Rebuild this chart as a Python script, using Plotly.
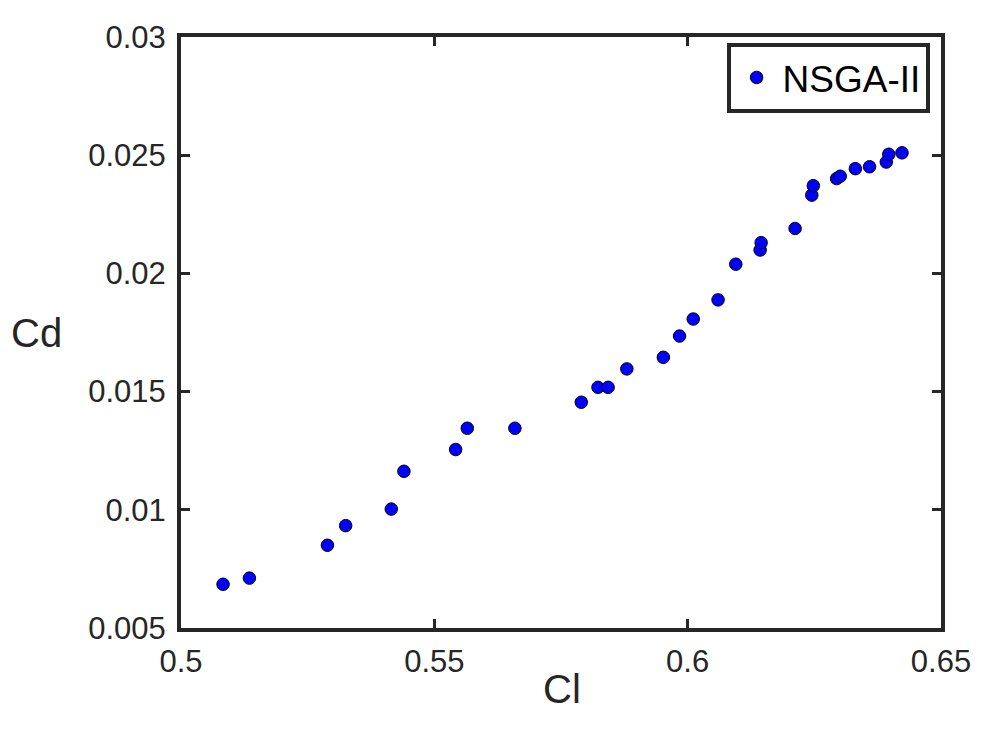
import plotly.graph_objects as go

cl = [0.5083, 0.5135, 0.5289, 0.5325, 0.5415, 0.5440, 0.5542, 0.5565, 0.5659,
      0.5790, 0.5823, 0.5843, 0.5880, 0.5952, 0.5984, 0.6011, 0.6060, 0.6095,
      0.6143, 0.6145, 0.6212, 0.6245, 0.6248, 0.6294, 0.6301, 0.6331, 0.6359,
      0.6392, 0.6397, 0.6423]
cd = [0.00685, 0.00711, 0.0085, 0.00933, 0.01003, 0.01163, 0.01255, 0.01345, 0.01345,
      0.01455, 0.01518, 0.01518, 0.01596, 0.01645, 0.01735, 0.01807, 0.01888, 0.02039,
      0.02099, 0.0213, 0.0219, 0.02331, 0.02371, 0.02401, 0.02411, 0.02443, 0.02451,
      0.02471, 0.02504, 0.0251]

x_ticks = [0.5, 0.55, 0.6, 0.65]
x_tick_labels = ["0.5", "0.55", "0.6", "0.65"]
y_ticks = [0.005, 0.01, 0.015, 0.02, 0.025, 0.03]
y_tick_labels = ["0.005", "0.01", "0.015", "0.02", "0.025", "0.03"]

axis_color = "#262626"
font_family = "Liberation Sans, Arial, sans-serif"

fig = go.Figure()
fig.add_trace(go.Scatter(
    x=cl, y=cd, mode="markers", name="NSGA-II",
    marker=dict(color="#0000ff", size=12.5, line=dict(color="#000000", width=1)),
))

axis_common = dict(
    showline=True, linewidth=4, linecolor=axis_color, mirror="ticks",
    ticks="inside", ticklen=9, tickwidth=3, tickcolor=axis_color,
    showgrid=False, zeroline=False,
    tickfont=dict(size=31, color=axis_color, family=font_family),
)

fig.update_xaxes(range=[0.5, 0.65], tickvals=x_ticks, ticktext=x_tick_labels,
                 ticklabelstandoff=3, **axis_common)
fig.update_yaxes(range=[0.005, 0.03], tickvals=y_ticks, ticktext=y_tick_labels,
                 ticklabelstandoff=5, **axis_common)

fig.add_annotation(text="Cl", xref="paper", yref="paper", x=0.5007, y=-0.103,
                   xanchor="center", yanchor="middle", showarrow=False,
                   font=dict(size=40, color=axis_color, family=font_family))
fig.add_annotation(text="Cd", xref="paper", yref="paper", x=-0.19, y=0.499,
                   xanchor="center", yanchor="middle", showarrow=False,
                   font=dict(size=40, color=axis_color, family=font_family))

fig.update_layout(
    width=975, height=727,
    margin=dict(l=173, r=39, t=21, b=107),
    plot_bgcolor="white", paper_bgcolor="white",
    showlegend=True,
    legend=dict(x=0.985, y=0.99, xanchor="right", yanchor="top",
                bordercolor="#262626", borderwidth=4, bgcolor="white",
                font=dict(size=37, color="#000000", family=font_family),
                itemwidth=42),
)

fig.write_html("out.html")
